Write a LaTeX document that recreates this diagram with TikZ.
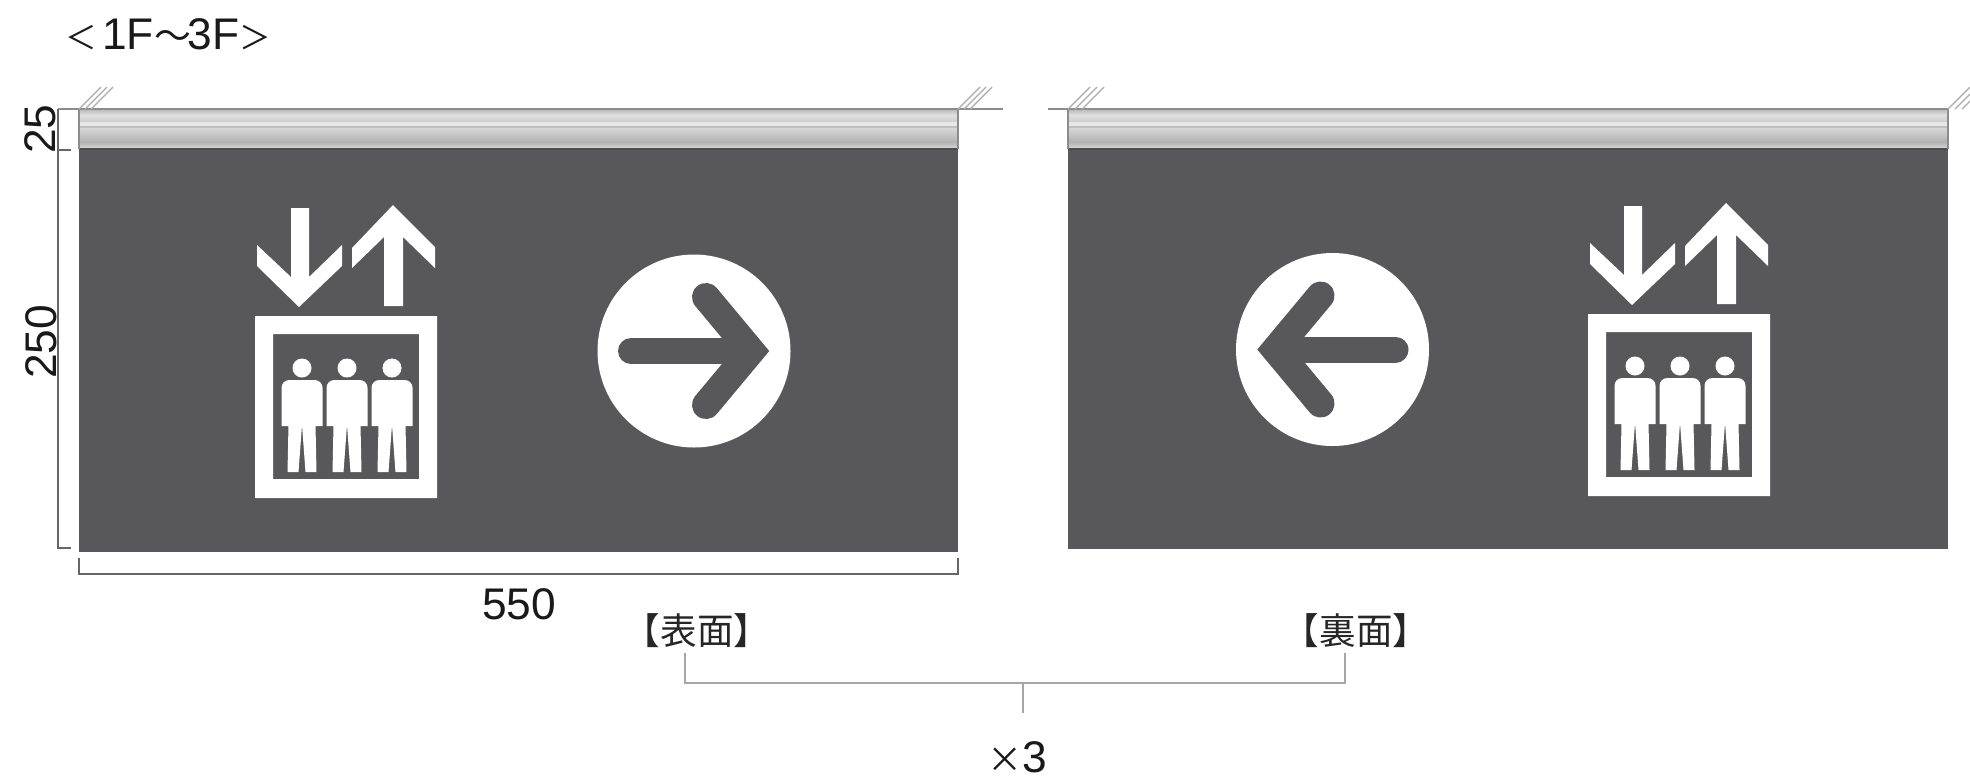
\documentclass[tikz,border=0pt]{standalone}
\usepackage{fontspec}
\setmainfont{Liberation Sans}
\newfontfamily\cjk{Noto Sans CJK JP}
\definecolor{signgrey}{HTML}{58585A}
\tikzset{
  x=0.01cm,y=-0.01cm,
  dimline/.style={draw=black!60,line width=0.35pt},
  leader/.style={draw=black!35,line width=0.5pt},
  wallline/.style={draw=black!45,line width=0.5pt},
  hatchline/.style={draw=black!30,line width=0.4pt},
  dimtext/.style={font=\fontsize{12.6}{14}\selectfont,text=black!90,inner sep=0pt},
  sidetext/.style={font=\cjk\fontsize{10.4}{12}\selectfont,text=black!85,inner sep=0pt},
  person/.pic={
    \fill[white] (0,-58) circle (9.5);
    \fill[white] (-20.5,0) [rounded corners=2.2pt] -- (-20.5,-46) -- (20.5,-46) [sharp corners] -- (20.5,0) -- cycle;
    \fill[white] (-13.5,-1) -- (13.5,-1) -- (14.5,46) -- (3.5,46) -- (0,-1) -- (-3.5,46) -- (-14.5,46) -- cycle;
  },
  lifticon/.pic={
    \fill[white,even odd rule] (255,316) rectangle (437,498) (273,334) rectangle (419,479);
    \fill[white] (291,208) -- (309,208) -- (309,277) -- (342,245) -- (342,266) -- (299,307)
      -- (257,266) -- (257,245) -- (291,277) -- cycle;
    \fill[white] (393,205) -- (435,247) -- (435,268) -- (403,237) -- (403,306) -- (384,306)
      -- (384,237) -- (352,268) -- (352,248) -- cycle;
    \foreach \x in {302,347,392} \pic at (\x,426) {person};
  },
  arrowdisc/.pic={
    \fill[white] (0,0) circle (96.5);
    \draw[signgrey,line width=0.26cm,line cap=round] (-63,0) -- (55,0);
    \draw[signgrey,line width=0.28cm,line cap=round] (12,-54) -- (57,0) -- (12,54);
  }
}
\begin{document}
\begin{tikzpicture}
\useasboundingbox (0,0) rectangle (1970,778);
% panels
\foreach \l/\r/\b in {79/958/552,1068/1948/549}{
  \fill[signgrey] (\l,149) rectangle (\r,\b);
  \shade[top color=black!28,bottom color=black!12] (\l,109) rectangle (\r,115);
  \shade[top color=black!12,bottom color=black!20] (\l,115) rectangle (\r,122);
  \fill[black!9] (\l,122) rectangle (\r,126);
  \fill[black!25] (\l,126) rectangle (\r,128);
  \shade[top color=black!16,bottom color=black!30] (\l,128) rectangle (\r,142);
  \shade[top color=black!30,bottom color=black!17] (\l,142) rectangle (\r,148);
  \fill[black!70] (\l,148) rectangle (\r,150);
  \draw[wallline] (\l,109) -- (\r,109);
  \draw[wallline] (\l,109) -- (\l,149);
  \draw[wallline] (\r,109) -- (\r,149);
}
% wall
\draw[wallline] (58,109) -- (79,109);
\draw[wallline] (958,109) -- (1003,109);
\draw[wallline] (1048,109) -- (1068,109);
\foreach \x in {79,85,91,958,964,970,1068,1075,1082}
  \draw[hatchline] (\x,109) -- ++(22,-22);
\draw[hatchline] (1948,109) -- (1970,87);
\draw[hatchline] (1955,109) -- (1970,94);
\draw[hatchline] (1962,109) -- (1970,101);
% signs
\pic at (0,0) {lifticon};
\pic at (1333,-2) {lifticon};
\pic at (694,351) {arrowdisc};
\pic[xscale=-1] at (1332.5,349.5) {arrowdisc};
% dimensions
\draw[dimline] (58,109) -- (58,548) -- (71,548);
\draw[dimline] (58,150) -- (71,150);
\draw[dimline] (79,558) -- (79,574) -- (958,574) -- (958,558);
\node[dimtext,rotate=90] (railsize) at (40,129) {25};
\node[dimtext,rotate=90] (signsize) at (41,342) {250};
\node[dimtext] (widthsize) at (519,604) {550};
\node[dimtext,anchor=west] (floors) at (65,34) {{\cjk\fontsize{9}{12}\selectfont ＜}\hspace{0.05cm}1F{\cjk\fontsize{10.5}{12}\selectfont ～}\hspace{-0.03cm}3F{\cjk\fontsize{9}{12}\selectfont ＞}};
% labels
\node[sidetext] (front) at (697,631) {【表面】};
\node[sidetext] (back) at (1356,631) {【裏面】};
\node[dimtext] (times) at (1017,757) {{\cjk\fontsize{10}{12}\selectfont ×}3};
\coordinate (frontleg) at (685,653);
\coordinate (backleg) at (1345,653);
\coordinate (stemtop) at (1023,683);
\coordinate (stemend) at (1023,713);
\draw[leader] (frontleg) |- (stemtop) -| (backleg);
\draw[leader] (stemtop) -- (stemend);
\end{tikzpicture}
\end{document}
